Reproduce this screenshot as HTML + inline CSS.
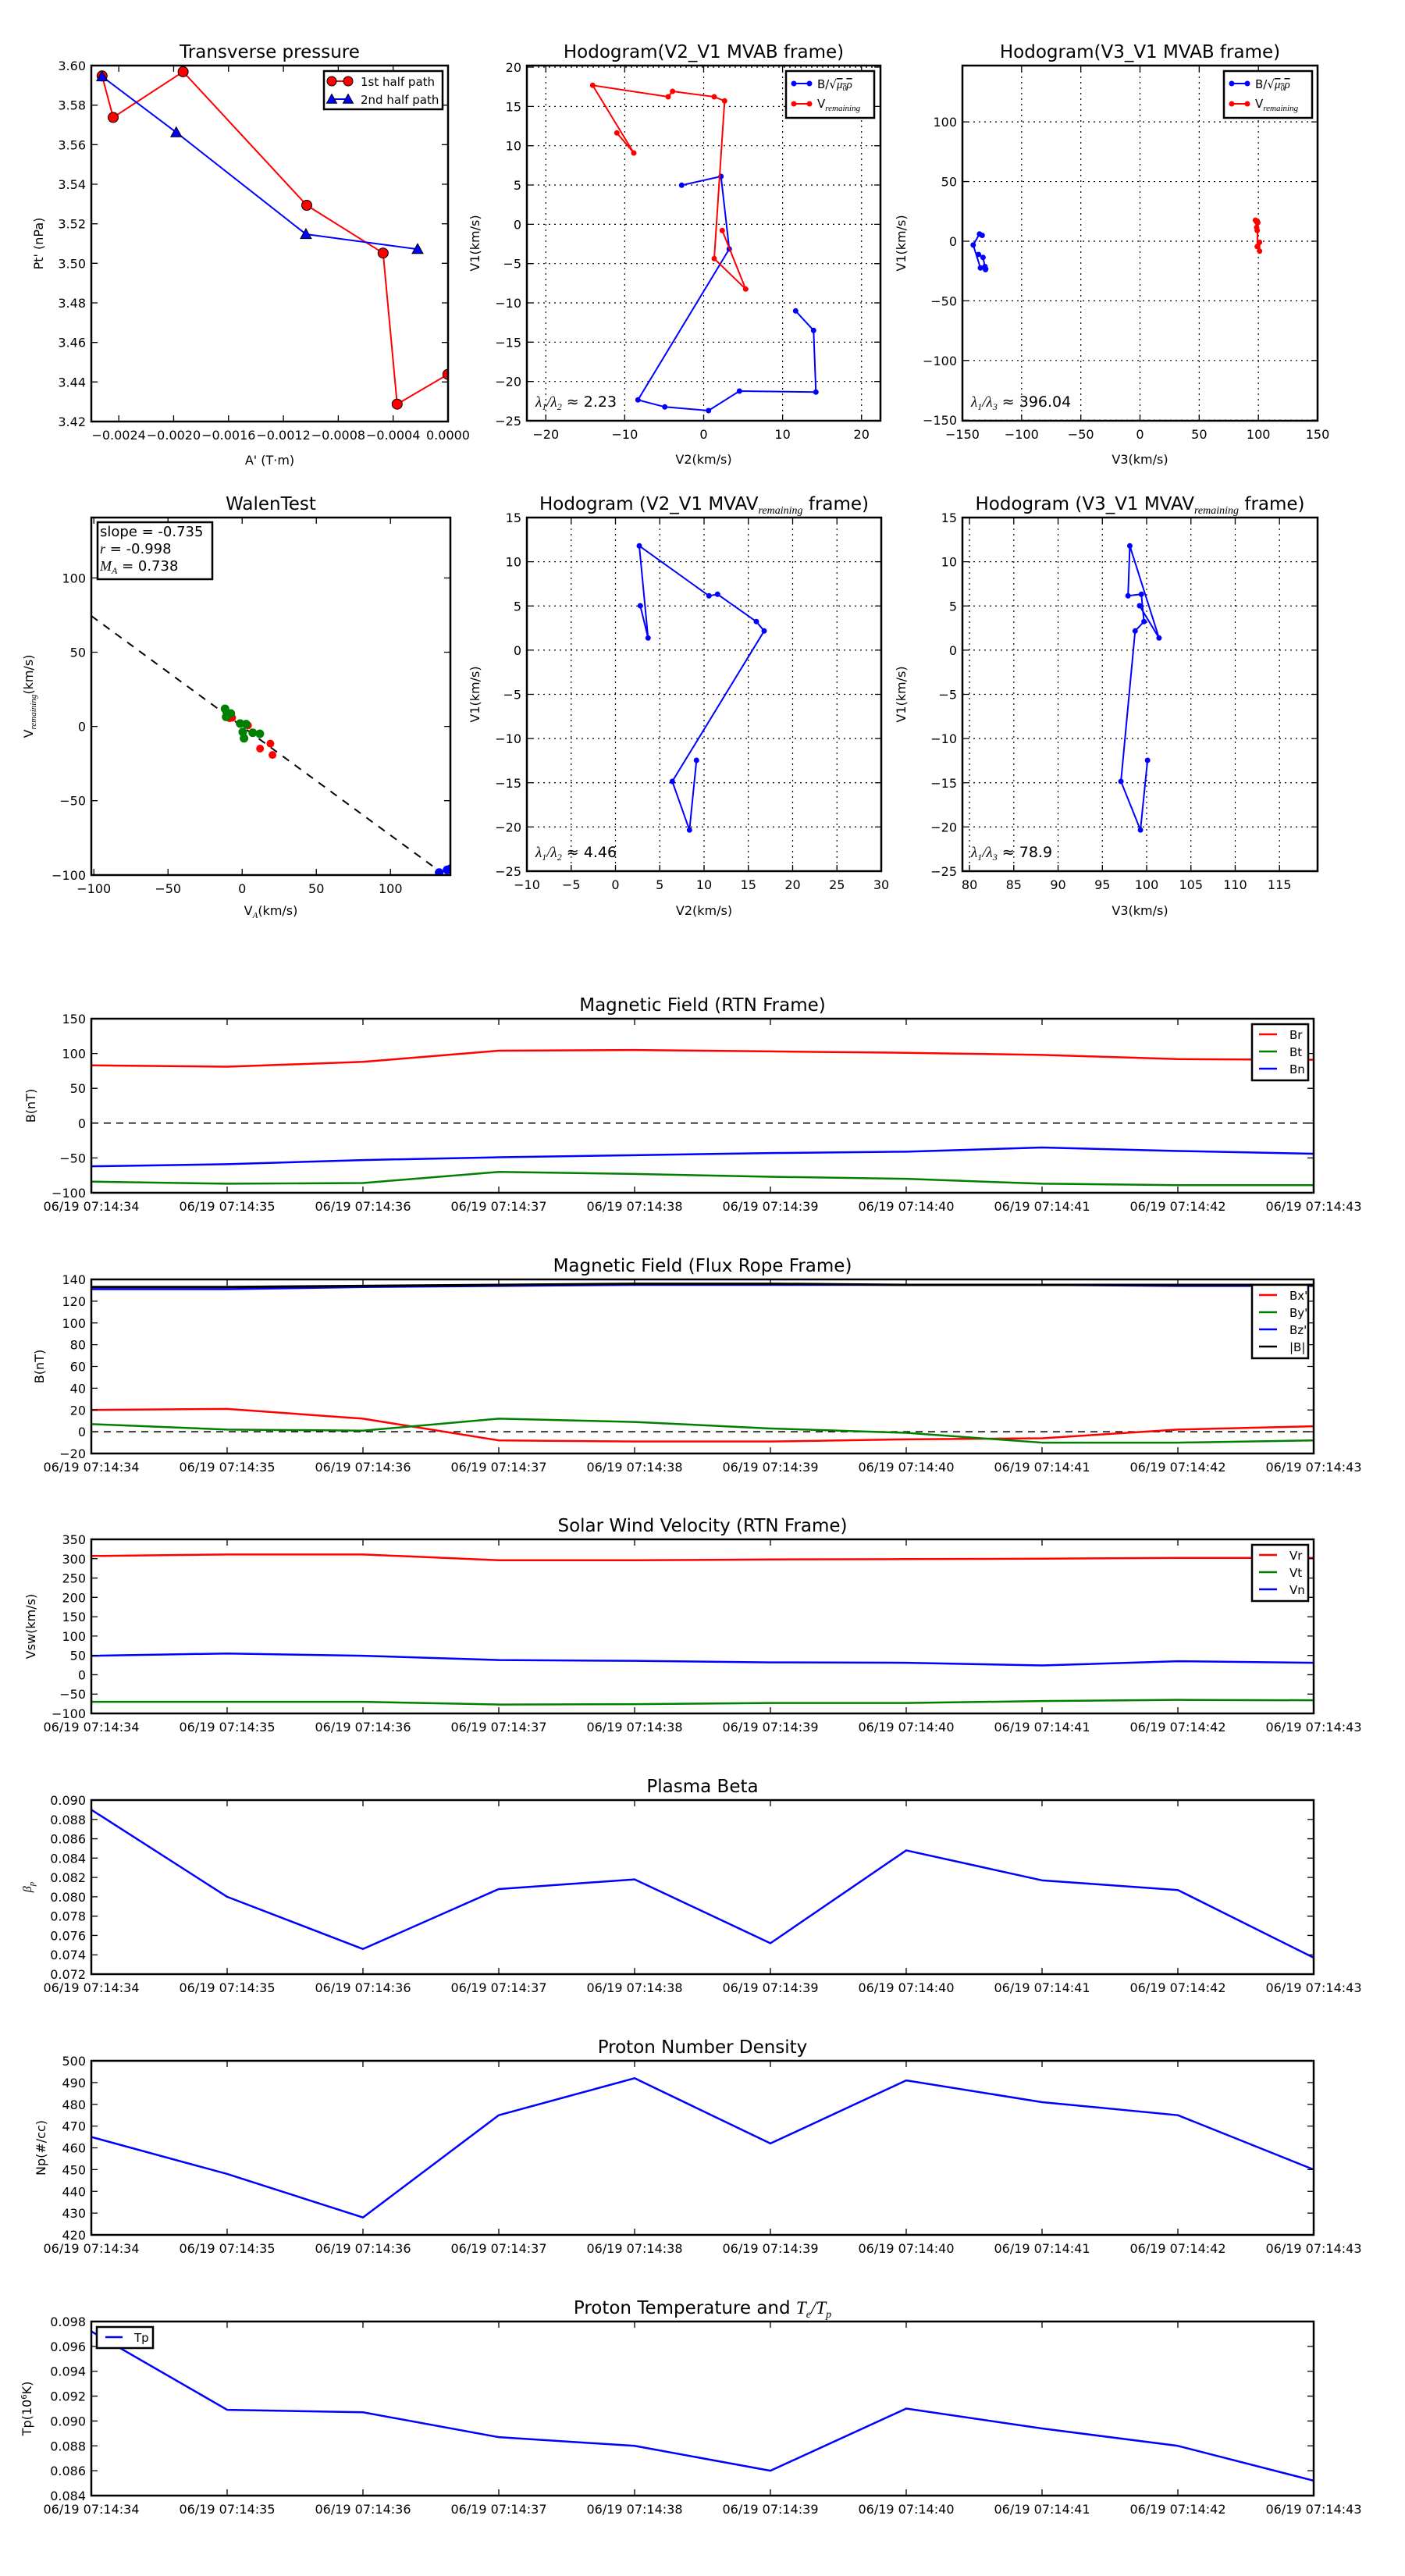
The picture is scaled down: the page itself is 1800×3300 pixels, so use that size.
<!DOCTYPE html>
<html><head><meta charset="utf-8"><style>
html,body{margin:0;padding:0;background:#fff}
svg{display:block;font-family:"DejaVu Sans","Liberation Sans",sans-serif}
</style></head><body>
<svg id="s" xmlns="http://www.w3.org/2000/svg" width="1800" height="3300" viewBox="0 0 1800 3300"></svg>
<script>
const S=[];const add=s=>S.push(s);let cid=0;
function T(x,y,s,o){o=o||{};add(`<text x="${x}" y="${y}" font-size="${o.fs||16}" text-anchor="${o.a||'middle'}"${o.r?` transform="rotate(-90 ${x} ${y})"`:''}>${s}</text>`);}
function axes(o){
 const {x0,y0,w,h,xl,yl}=o;
 const X=v=>x0+(v-xl[0])/(xl[1]-xl[0])*w, Y=v=>y0+h-(v-yl[0])/(yl[1]-yl[0])*h;
 const px=o.px||((i)=>X(o.xt[i])), py=(i)=>Y(o.yt[i]);
 const id='c'+(cid++);
 add(`<clipPath id="${id}"><rect x="${x0}" y="${y0}" width="${w}" height="${h}"/></clipPath>`);
 if(o.grid){let g='';o.xt.forEach((v,i)=>{const x=px(i);g+=`M${x} ${y0}V${y0+h}`;});o.yt.forEach((v,i)=>{const y=py(i);g+=`M${x0} ${y}H${x0+w}`;});
  add(`<path d="${g}" stroke="#000" stroke-width="1.2" stroke-dasharray="2,5" fill="none"/>`);}
 add(`<g clip-path="url(#${id})">`);o.draw(X,Y);add('</g>');
 let t='';o.xt.forEach((v,i)=>{const x=px(i);t+=`M${x} ${y0+h}v-8M${x} ${y0}v8`;});
 o.yt.forEach((v,i)=>{const y=py(i);t+=`M${x0} ${y}h8M${x0+w} ${y}h-8`;});
 add(`<path d="${t}" stroke="#000" stroke-width="1.3" fill="none"/>`);
 add(`<rect x="${x0}" y="${y0}" width="${w}" height="${h}" fill="none" stroke="#000" stroke-width="2.5"/>`);
 o.xtl.forEach((s,i)=>T(px(i),y0+h+(o.xly||23),s));
 o.ytl.forEach((s,i)=>T(x0-7,py(i)+6,s,{a:'end'}));
 if(o.title)T(x0+w/2,y0-10,o.title,{fs:23});
 if(o.xlabel)T(x0+w/2,o.xlaby||y0+h+52,o.xlabel);
 if(o.ylabel)T(o.ylx,y0+h/2,o.ylabel,{r:1});
 return {X,Y};
}
function pl(pts,c,sw){return `<polyline points="${pts.map(p=>p.join(',')).join(' ')}" fill="none" stroke="${c}" stroke-width="${sw||2}" stroke-linejoin="round"/>`;}
function dots(pts,c,r,edge){return pts.map(p=>`<circle cx="${p[0]}" cy="${p[1]}" r="${r}" fill="${c}"${edge?' stroke="#000" stroke-width="1"':' stroke="none"'}/>`).join('');}
function tri(pts,c,r){return pts.map(p=>`<polygon points="${p[0]},${p[1]-r} ${p[0]-r},${p[1]+r*0.8} ${p[0]+r},${p[1]+r*0.8}" fill="${c}" stroke="#000" stroke-width="1"/>`).join('');}
function box(x,y,w,h){add(`<rect x="${x}" y="${y}" width="${w}" height="${h}" fill="#fff" stroke="#000" stroke-width="2.5"/>`);}
const M='−';
const VREM='V<tspan font-family="Liberation Serif" font-style="italic" font-size="11" dy="4">remaining</tspan>';
const BMU='B/√<tspan font-family="Liberation Serif" font-style="italic" text-decoration="overline">μ<tspan font-size="10" dy="3">0</tspan><tspan dy="-3">ρ</tspan></tspan>';
function lam(a,b,val){return `<tspan font-family="Liberation Serif" font-style="italic">λ<tspan font-size="12" dy="4">${a}</tspan><tspan dy="-4">/λ</tspan><tspan font-size="12" dy="4">${b}</tspan></tspan><tspan dy="-4"> ≈ ${val}</tspan>`;}
function hodoLegend(xr){const x=xr-113,y=91;box(x,y,113,60);
 add(`<line x1="${x+10}" y1="${y+16}" x2="${x+30}" y2="${y+16}" stroke="blue" stroke-width="2"/>`+dots([[x+10,y+16],[x+30,y+16]],'blue',3.5));
 add(`<line x1="${x+10}" y1="${y+42}" x2="${x+30}" y2="${y+42}" stroke="red" stroke-width="2"/>`+dots([[x+10,y+42],[x+30,y+42]],'red',3.5));
 T(x+40,y+22,BMU,{a:'start',fs:15});T(x+40,y+47,VREM,{a:'start',fs:15});}

// ===== Transverse pressure
axes({x0:117,y0:84,w:457,h:456,xl:[-0.0026,0],yl:[3.42,3.60],
 xt:[-0.0024,-0.002,-0.0016,-0.0012,-0.0008,-0.0004,0],xtl:[M+'0.0024',M+'0.0020',M+'0.0016',M+'0.0012',M+'0.0008',M+'0.0004','0.0000'],
 yt:[3.42,3.44,3.46,3.48,3.50,3.52,3.54,3.56,3.58,3.60],ytl:['3.42','3.44','3.46','3.48','3.50','3.52','3.54','3.56','3.58','3.60'],
 title:'Transverse pressure',xlabel:"A' (T·m)",xlaby:595,ylabel:"Pt' (nPa)",ylx:55,
 draw(){const r=[[130.8,97.3],[145,150.4],[234.6,91.9],[393,263],[490.8,324.2],[508.8,517.7],[573.8,479.6]];
  const b=[[130.8,98],[225.8,169.6],[391.9,300],[535,319.2]];
  add(pl(r,'red')+dots(r,'red',6.5,1)+pl(b,'blue')+tri(b,'blue',7));}});
box(415,91,152,49);
add(`<line x1="425" y1="104" x2="446" y2="104" stroke="red" stroke-width="2"/>`+dots([[425,104],[446,104]],'red',6,1));
add(`<line x1="425" y1="127" x2="446" y2="127" stroke="blue" stroke-width="2"/>`+tri([[425,127],[446,127]],'blue',6.5));
T(462,110,'1st half path',{a:'start',fs:15});T(462,133,'2nd half path',{a:'start',fs:15});

// ===== Hodogram V2_V1 MVAB
axes({x0:675,y0:84,w:453,h:455,xl:[-22.4,22.4],yl:[-25,20.2],grid:1,
 xt:[-20,-10,0,10,20],xtl:[M+'20',M+'10','0','10','20'],
 yt:[-25,-20,-15,-10,-5,0,5,10,15,20],ytl:[M+'25',M+'20',M+'15',M+'10',M+'5','0','5','10','15','20'],
 title:'Hodogram(V2_V1 MVAB frame)',xlabel:'V2(km/s)',xlaby:594,ylabel:'V1(km/s)',ylx:614,
 draw(){const r=[[790.3,170.3],[812,196],[759.3,109.3],[856,124],[861.7,117],[915,124],[928.3,129.3],[915,331.3],[955.3,370.3],[925.3,295.3]];
  const b=[[873.3,237.3],[923.7,226],[934.3,319],[817.3,512.3],[851.7,521.3],[907.7,526],[947.3,501],[1045.3,502.3],[1042.3,423.3],[1019.3,398.3]];
  add(pl(b,'blue')+dots(b,'blue',3.5)+pl(r,'red')+dots(r,'red',3.5));}});
hodoLegend(1120);T(686,521,lam(1,2,'2.23'),{a:'start',fs:19});

// ===== Hodogram V3_V1 MVAB
{const bx=[-133.3,-135.6,-140.9,-134.8,-130.3,-130.5,-131,-131,-132.6,-136.4],by=[4.9,6.0,-3.2,-22.4,-23.3,-23.8,-21.3,-21.4,-13.6,-11.1];
 const rx=[98.5,99,97.5,98.5,99,99,99.5,99,101,101],ry=[11.5,9.0,17.6,16.2,16.8,16.2,15.6,-4.5,-8.3,-0.9];
axes({x0:1233,y0:84,w:455,h:455,xl:[-150,150],yl:[-150.5,147.2],grid:1,
 xt:[-150,-100,-50,0,50,100,150],xtl:[M+'150',M+'100',M+'50','0','50','100','150'],
 yt:[-150,-100,-50,0,50,100],ytl:[M+'150',M+'100',M+'50','0','50','100'],
 title:'Hodogram(V3_V1 MVAB frame)',xlabel:'V3(km/s)',xlaby:594,ylabel:'V1(km/s)',ylx:1160,
 draw(X,Y){const b=bx.map((v,i)=>[X(v),Y(by[i])]),r=rx.map((v,i)=>[X(v),Y(ry[i])]);
  add(pl(b,'blue')+dots(b,'blue',3.5)+pl(r,'red')+dots(r,'red',3.5));}});}
hodoLegend(1681);T(1244,521,lam(1,3,'396.04'),{a:'start',fs:19});

// ===== Walen test
axes({x0:117,y0:663,w:460,h:458,xl:[-101.7,140.4],yl:[-100.1,140.7],
 xt:[-100,-50,0,50,100],xtl:[M+'100',M+'50','0','50','100'],
 yt:[-100,-50,0,50,100],ytl:[M+'100',M+'50','0','50','100'],
 title:'WalenTest',xlabel:'V<tspan font-family="Liberation Serif" font-style="italic" font-size="11" dy="4">A</tspan><tspan dy="-4">(km/s)</tspan>',xlaby:1172,
 ylabel:VREM+'<tspan dy="-4">(km/s)</tspan>',ylx:42,
 draw(){add(`<line x1="117" y1="789" x2="557.6" y2="1112" stroke="#000" stroke-width="2" stroke-dasharray="10,9"/>`);
  const g=[[288.3,908],[289.7,918.4],[295.7,914],[307.6,926.9],[315.3,927.6],[311,937.7],[312.6,945.8],[323.8,938.7],[332.9,940]];
  const r=[[294,920],[297.4,919.5],[317.7,929.3],[346.4,952.6],[333.2,959],[349.1,967.1]];
  const b=[[562.6,1117.8],[572.8,1114.4],[577.2,1112.7]];
  add(dots(r,'red',5)+dots(g,'green',5.5)+dots(b,'blue',5.5));}});
box(125,669,147,73);
T(128,687,'slope = -0.735',{a:'start',fs:18});
T(128,709,'<tspan font-family="Liberation Serif" font-style="italic">r</tspan> = -0.998',{a:'start',fs:18});
T(128,731,'<tspan font-family="Liberation Serif" font-style="italic">M<tspan font-size="12" dy="4">A</tspan></tspan><tspan dy="-4"> = 0.738</tspan>',{a:'start',fs:18});

// ===== Hodogram V2_V1 MVAV
const hy=[776,817.3,699.3,763.3,761.3,796.3,808.3,1001,1063.3,974];
axes({x0:675,y0:663,w:454,h:453,xl:[-10,30],yl:[-25,15],grid:1,
 xt:[-10,-5,0,5,10,15,20,25,30],xtl:[M+'10',M+'5','0','5','10','15','20','25','30'],
 yt:[-25,-20,-15,-10,-5,0,5,10,15],ytl:[M+'25',M+'20',M+'15',M+'10',M+'5','0','5','10','15'],
 title:'Hodogram (V2_V1 MVAV<tspan font-family="Liberation Serif" font-style="italic" font-size="14" dy="5">remaining</tspan><tspan dy="-5"> frame)</tspan>',
 xlabel:'V2(km/s)',xlaby:1172,ylabel:'V1(km/s)',ylx:614,
 draw(){const xs=[820.3,830.3,819,908.3,919.3,969,979,861.3,883.3,892.3];const b=xs.map((x,i)=>[x,hy[i]]);add(pl(b,'blue')+dots(b,'blue',3.5));}});
T(686,1098,lam(1,2,'4.46'),{a:'start',fs:19});

// ===== Hodogram V3_V1 MVAV
axes({x0:1233,y0:663,w:455,h:453,xl:[79.2,119.3],yl:[-25,15],grid:1,
 xt:[80,85,90,95,100,105,110,115],xtl:['80','85','90','95','100','105','110','115'],
 yt:[-25,-20,-15,-10,-5,0,5,10,15],ytl:[M+'25',M+'20',M+'15',M+'10',M+'5','0','5','10','15'],
 title:'Hodogram (V3_V1 MVAV<tspan font-family="Liberation Serif" font-style="italic" font-size="14" dy="5">remaining</tspan><tspan dy="-5"> frame)</tspan>',
 xlabel:'V3(km/s)',xlaby:1172,ylabel:'V1(km/s)',ylx:1160,
 draw(X){const xv=[99.2,101.4,98.1,97.9,99.4,99.7,98.7,97.1,99.3,100.1];const b=xv.map((v,i)=>[X(v),hy[i]]);add(pl(b,'blue')+dots(b,'blue',3.5));}});
T(1244,1098,lam(1,3,'78.9'),{a:'start',fs:19});

// ===== Time series
const TL=[];for(let i=34;i<=43;i++)TL.push('06/19 07:14:'+i);
const TI=[0,1,2,3,4,5,6,7,8,9];
function ts(top,yl,yt,ytl,title,ylabel,ylx,series,leg,zero){
 axes({x0:117,y0:top,w:1566,h:223,xl:[0,9],yl,xt:TI,xtl:TL,yt,ytl,title,ylabel,ylx,
  draw(X,Y){if(zero)add(`<line x1="117" y1="${Y(0)}" x2="1683" y2="${Y(0)}" stroke="#000" stroke-width="1.5" stroke-dasharray="9,7"/>`);
   series.forEach(s=>add(pl(s.v.map((v,i)=>[X(i),Y(v)]),s.c,s.w||2.5)));}});
 if(leg==='ul'){box(124,top+7,72,27);add(`<line x1="135" y1="${top+20}" x2="157" y2="${top+20}" stroke="blue" stroke-width="2.5"/>`);T(172,top+26,'Tp',{a:'start',fs:15});}
 else if(leg){const n=series.length,h=n*22+6;box(1604,top+7,72,h);
  series.forEach((s,i)=>{const y=top+20+22*i;add(`<line x1="1613" y1="${y}" x2="1636" y2="${y}" stroke="${s.c}" stroke-width="2.5"/>`);T(1652,y+6,s.n,{a:'start',fs:15});});}
}
const rng=(a,b,s,f)=>{const v=[],l=[];for(let x=a;x<=b+1e-9;x+=s){v.push(x);l.push(f?f(x):(x<0?M+Math.abs(x):''+x));}return [v,l];};
let r;
r=rng(-100,150,50);
ts(1305,[-100,150],r[0],r[1],'Magnetic Field (RTN Frame)','B(nT)',45,[
 {c:'red',n:'Br',v:[83,81,88,104,105,103,101,98,92,91]},
 {c:'green',n:'Bt',v:[-84,-87,-86,-70,-73,-77,-80,-87,-89,-89]},
 {c:'blue',n:'Bn',v:[-62,-59,-53,-49,-46,-43,-41,-35,-40,-44]}],1,1);
r=rng(-20,140,20);
ts(1639,[-20,140],r[0],r[1],'Magnetic Field (Flux Rope Frame)','B(nT)',56,[
 {c:'red',n:"Bx'",v:[20,21,12,-8,-9,-9,-7,-6,2,5]},
 {c:'green',n:"By'",v:[7,2,1,12,9,3,-1,-10,-10,-8]},
 {c:'blue',n:"Bz'",v:[131,131,133,134,135,135,135,135,134,134]},
 {c:'#000',n:'|B|',v:[133,133,134,135,136,136,135,135,135,135],w:3}],1,1);
r=rng(-100,350,50);
ts(1972,[-100,350],r[0],r[1],'Solar Wind Velocity (RTN Frame)','Vsw(km/s)',45,[
 {c:'red',n:'Vr',v:[307,311,311,296,296,298,299,300,302,302]},
 {c:'green',n:'Vt',v:[-70,-70,-70,-77,-76,-73,-73,-68,-65,-66]},
 {c:'blue',n:'Vn',v:[49,55,49,38,36,32,31,24,35,31]}],1,0);
r=rng(0,9,1,x=>(0.072+x*0.002).toFixed(3));r[0]=r[0].map(x=>0.072+x*0.002);
ts(2306,[0.072,0.090],r[0],r[1],'Plasma Beta','<tspan font-family="Liberation Serif" font-style="italic">β<tspan font-size="11" dy="4">p</tspan></tspan>',40,[
 {c:'blue',v:[0.0890,0.0800,0.0746,0.0808,0.0818,0.0752,0.0848,0.0817,0.0807,0.0737]}],0,0);
r=rng(420,500,10);
ts(2640,[420,500],r[0],r[1],'Proton Number Density','Np(#/cc)',58,[
 {c:'blue',v:[465,448,428,475,492,462,491,481,475,450]}],0,0);
r=rng(0,7,1,x=>(0.084+x*0.002).toFixed(3));r[0]=r[0].map(x=>0.084+x*0.002);
ts(2974,[0.084,0.098],r[0],r[1],'Proton Temperature and <tspan font-family="Liberation Serif" font-style="italic">T<tspan font-size="14" dy="5">e</tspan><tspan dy="-5">/T</tspan><tspan font-size="14" dy="5">p</tspan></tspan>',
 'Tp(10<tspan font-size="10" dy="-6">6</tspan><tspan dy="6">K)</tspan>',40,[
 {c:'blue',v:[0.0972,0.0909,0.0907,0.0887,0.0880,0.0860,0.0910,0.0894,0.0880,0.0852]}],'ul',0);

document.getElementById('s').innerHTML='<rect width="1800" height="3300" fill="#fff"/>'+S.join('');
</script>
</body></html>
